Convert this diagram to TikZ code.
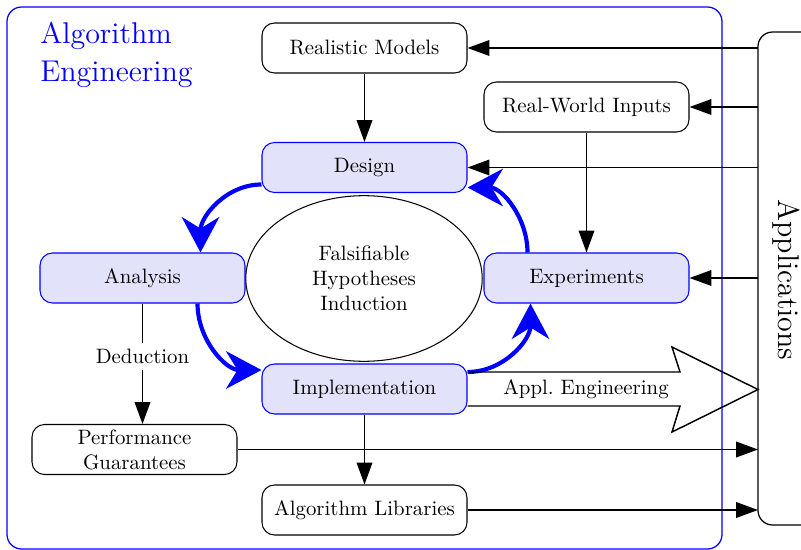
\documentclass[tikz,border=0pt]{standalone}
\usetikzlibrary{arrows.meta,calc,shapes.geometric}
\definecolor{boxfill}{RGB}{226,226,250}
\tikzset{
  box/.style={draw, rounded corners=6pt, minimum width=98.4pt, minimum height=24pt,
              inner sep=0pt, align=center, fill=white, line width=0.5pt},
  bluebox/.style={box, draw=blue, fill=boxfill},
  conn/.style={line width=0.7pt, -{Triangle[length=10.5pt,width=7.5pt]}},
  cycle/.style={blue, line width=2pt, -{Stealth[length=17pt,width=18pt,inset=5.5pt]}},
}
\begin{document}
\begin{tikzpicture}[x=0.48pt, y=-0.48pt]
\useasboundingbox (0,0) rectangle (801,550);

% frame of the engineering cycle
\draw[blue, line width=0.6pt, rounded corners=7pt] (7,7) rectangle (722,549);
\node[anchor=north west, blue, align=left, font=\Large, inner sep=0pt] (title) at (40,22)
  {Algorithm\\Engineering};

% applications column
\draw[rounded corners=7pt, line width=0.6pt] (840,32) -- (758,32) -- (758,525) -- (840,525);
\coordinate (appw) at (758,280);
\node[rotate=-90, font=\Large] (apps) at (786,280) {Applications};

% boxes
\node[box] (rm) at (364.5,48) {Realistic Models};
\node[box] (rwi) at (586.5,107) {Real-World Inputs};
\node[bluebox] (design) at (364.5,167.5) {Design};
\node[bluebox] (analysis) at (142.5,278) {Analysis};
\node[bluebox] (exper) at (586.5,278) {Experiments};
\node[bluebox] (impl) at (364.5,389) {Implementation};
\node[box] (perf) at (134.5,449.5) {Performance\\Guarantees};
\node[box] (alglib) at (364.5,510) {Algorithm Libraries};
\node[draw, ellipse, minimum width=113.5pt, minimum height=79.5pt, align=center,
      line width=0.5pt] (hyp) at (364,278.5) {Falsifiable\\Hypotheses\\Induction};

% vertical connectors
\draw[conn] (rm) -- (design);
\draw[conn] (rwi) -- (exper);
\draw[conn] (impl) -- (alglib);
\draw[conn] (analysis.south) -- node[pos=0.44, fill=white, inner sep=3pt] (ded) {Deduction}
  (analysis.south |- perf.north);

% connectors from the applications
\draw[conn] (appw |- rm.east) -- (rm.east);
\draw[conn] (appw |- rwi.east) -- (rwi.east);
\draw[conn] (appw |- design.east) -- (design.east);
\draw[conn] (appw |- exper.east) -- (exper.east);
\draw[conn] (perf.east) -- (appw |- perf.east);
\draw[conn] (alglib.east) -- (appw |- alglib.east);

% the engineering cycle
\draw[cycle] ($(design.west)+(0,17)$) to[out=180, in=90] ($(analysis.north)+(58,0)$);
\draw[cycle] ($(analysis.south)+(55,0)$) to[out=-90, in=180] ($(impl.west)+(0,-19)$);
\draw[cycle] ($(impl.east)+(0,-17)$) to[out=0, in=-90] ($(exper.south)+(-56,0)$);
\draw[cycle] ($(exper.north)+(-59,0)$) to[out=90, in=0] ($(design.east)+(0,20)$);

% application engineering arrow
\coordinate (tip) at (758,389.5);
\draw[line width=0.7pt, line join=miter]
  ($(impl.east)+(0,-17)$) -- (680,372) -- (672,347) -- (tip) -- (672,432) -- (680,406)
  -- ($(impl.east)+(0,17)$);
\node (appl) at (586,389) {Appl.~Engineering};
\end{tikzpicture}
\end{document}
